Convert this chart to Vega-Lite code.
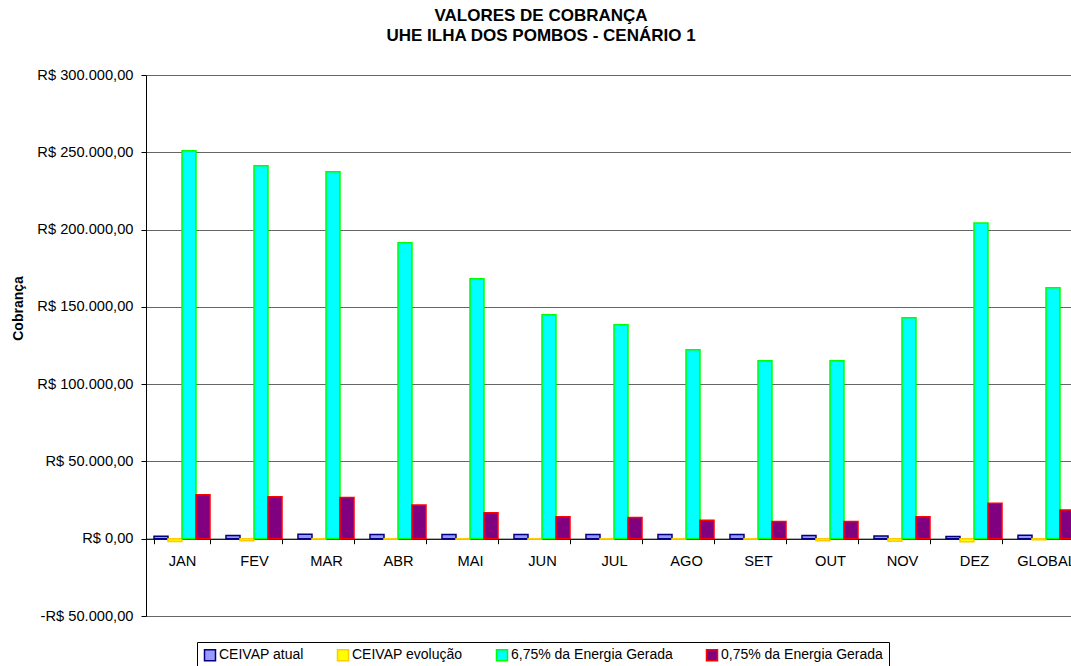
{
  "$schema": "https://vega.github.io/schema/vega-lite/v6.json",
  "autosize": "none",
  "padding": {"left": 146, "top": 75, "right": -11, "bottom": 50},
  "width": 936,
  "height": 541,
  "background": "white",
  "title": {
    "text": ["VALORES DE COBRANÇA", "UHE ILHA DOS POMBOS - CENÁRIO 1"],
    "fontSize": 17,
    "fontWeight": "bold",
    "font": "Liberation Sans",
    "lineHeight": 20,
    "color": "black",
    "anchor": "middle",
    "dx": -73,
    "offset": 22
  },
  "data": {
    "values": [
      {"mes": "JAN", "serie": "CEIVAP atual", "valor": 1600},
      {"mes": "JAN", "serie": "CEIVAP evolução", "valor": -1800},
      {"mes": "JAN", "serie": "6,75% da Energia Gerada", "valor": 251000},
      {"mes": "JAN", "serie": "0,75% da Energia Gerada", "valor": 28400},
      {"mes": "FEV", "serie": "CEIVAP atual", "valor": 2000},
      {"mes": "FEV", "serie": "CEIVAP evolução", "valor": -1300},
      {"mes": "FEV", "serie": "6,75% da Energia Gerada", "valor": 241300},
      {"mes": "FEV", "serie": "0,75% da Energia Gerada", "valor": 27200},
      {"mes": "MAR", "serie": "CEIVAP atual", "valor": 2900},
      {"mes": "MAR", "serie": "CEIVAP evolução", "valor": -300},
      {"mes": "MAR", "serie": "6,75% da Energia Gerada", "valor": 237400},
      {"mes": "MAR", "serie": "0,75% da Energia Gerada", "valor": 26700},
      {"mes": "ABR", "serie": "CEIVAP atual", "valor": 2700},
      {"mes": "ABR", "serie": "CEIVAP evolução", "valor": -300},
      {"mes": "ABR", "serie": "6,75% da Energia Gerada", "valor": 191500},
      {"mes": "ABR", "serie": "0,75% da Energia Gerada", "valor": 21800},
      {"mes": "MAI", "serie": "CEIVAP atual", "valor": 2700},
      {"mes": "MAI", "serie": "CEIVAP evolução", "valor": -300},
      {"mes": "MAI", "serie": "6,75% da Energia Gerada", "valor": 168200},
      {"mes": "MAI", "serie": "0,75% da Energia Gerada", "valor": 16800},
      {"mes": "JUN", "serie": "CEIVAP atual", "valor": 2700},
      {"mes": "JUN", "serie": "CEIVAP evolução", "valor": -300},
      {"mes": "JUN", "serie": "6,75% da Energia Gerada", "valor": 144900},
      {"mes": "JUN", "serie": "0,75% da Energia Gerada", "valor": 14200},
      {"mes": "JUL", "serie": "CEIVAP atual", "valor": 2700},
      {"mes": "JUL", "serie": "CEIVAP evolução", "valor": -300},
      {"mes": "JUL", "serie": "6,75% da Energia Gerada", "valor": 138400},
      {"mes": "JUL", "serie": "0,75% da Energia Gerada", "valor": 13800},
      {"mes": "AGO", "serie": "CEIVAP atual", "valor": 2700},
      {"mes": "AGO", "serie": "CEIVAP evolução", "valor": -300},
      {"mes": "AGO", "serie": "6,75% da Energia Gerada", "valor": 122300},
      {"mes": "AGO", "serie": "0,75% da Energia Gerada", "valor": 11900},
      {"mes": "SET", "serie": "CEIVAP atual", "valor": 2700},
      {"mes": "SET", "serie": "CEIVAP evolução", "valor": -300},
      {"mes": "SET", "serie": "6,75% da Energia Gerada", "valor": 115200},
      {"mes": "SET", "serie": "0,75% da Energia Gerada", "valor": 11200},
      {"mes": "OUT", "serie": "CEIVAP atual", "valor": 2000},
      {"mes": "OUT", "serie": "CEIVAP evolução", "valor": -1300},
      {"mes": "OUT", "serie": "6,75% da Energia Gerada", "valor": 115200},
      {"mes": "OUT", "serie": "0,75% da Energia Gerada", "valor": 11200},
      {"mes": "NOV", "serie": "CEIVAP atual", "valor": 1800},
      {"mes": "NOV", "serie": "CEIVAP evolução", "valor": -1600},
      {"mes": "NOV", "serie": "6,75% da Energia Gerada", "valor": 143000},
      {"mes": "NOV", "serie": "0,75% da Energia Gerada", "valor": 14200},
      {"mes": "DEZ", "serie": "CEIVAP atual", "valor": 1500},
      {"mes": "DEZ", "serie": "CEIVAP evolução", "valor": -2000},
      {"mes": "DEZ", "serie": "6,75% da Energia Gerada", "valor": 204300},
      {"mes": "DEZ", "serie": "0,75% da Energia Gerada", "valor": 23000},
      {"mes": "GLOBAL", "serie": "CEIVAP atual", "valor": 2300},
      {"mes": "GLOBAL", "serie": "CEIVAP evolução", "valor": -700},
      {"mes": "GLOBAL", "serie": "6,75% da Energia Gerada", "valor": 162400},
      {"mes": "GLOBAL", "serie": "0,75% da Energia Gerada", "valor": 18600}
    ]
  },
  "mark": {"type": "bar", "strokeWidth": 1.5},
  "encoding": {
    "x": {
      "field": "mes",
      "type": "nominal",
      "sort": null,
      "scale": {"paddingInner": 0.222, "paddingOuter": 0.111},
      "axis": {
        "title": null,
        "labelAngle": 0,
        "labelFontSize": 14.67,
        "labelColor": "black",
        "labelPadding": 10,
        "labelOverlap": false,
        "tickBand": "extent",
        "ticks": true,
        "tickSize": 5,
        "tickColor": "black",
        "domainColor": "black",
        "domainWidth": 1,
        "offset": -77.3,
        "grid": false
      }
    },
    "xOffset": {
      "field": "serie",
      "type": "nominal",
      "sort": ["CEIVAP atual", "CEIVAP evolução", "6,75% da Energia Gerada", "0,75% da Energia Gerada"],
      "scale": {"paddingInner": 0, "paddingOuter": 0}
    },
    "y": {
      "field": "valor",
      "type": "quantitative",
      "scale": {"domain": [-50000, 300000], "nice": false, "zero": false},
      "axis": {
        "title": "Cobrança",
        "titleFontSize": 14,
        "titleFontWeight": "bold",
        "titleColor": "black",
        "titleX": -128,
        "titleY": 233,
        "titleAngle": -90,
        "titleBaseline": "middle",
        "titleAlign": "center",
        "values": [-50000, 0, 50000, 100000, 150000, 200000, 250000, 300000],
        "labelExpr": "(datum.value < 0 ? '-' : '') + 'R$ ' + replace(format(abs(datum.value), ','), ',', '.') + ',00'",
        "labelFontSize": 14.67,
        "labelColor": "black",
        "labelPadding": 8,
        "tickSize": 5,
        "tickColor": "black",
        "domainColor": "black",
        "grid": true,
        "gridColor": "#666666",
        "gridWidth": 1
      }
    },
    "fill": {
      "field": "serie",
      "type": "nominal",
      "scale": {
        "domain": ["CEIVAP atual", "CEIVAP evolução", "6,75% da Energia Gerada", "0,75% da Energia Gerada"],
        "range": ["#9999FF", "#FFFF00", "#00FFFF", "#800080"]
      },
      "legend": {
        "title": null,
        "orient": "none",
        "legendX": 51,
        "legendY": 567,
        "direction": "horizontal",
        "columns": 4,
        "columnPadding": 30,
        "symbolType": "square",
        "symbolSize": 121,
        "symbolStrokeWidth": 1.5,
        "labelFontSize": 14,
        "labelColor": "black",
        "labelOffset": 2,
        "labelLimit": 300,
        "strokeColor": "#000000",
        "padding": 6,
        "fillColor": "white"
      }
    },
    "stroke": {
      "field": "serie",
      "type": "nominal",
      "scale": {
        "domain": ["CEIVAP atual", "CEIVAP evolução", "6,75% da Energia Gerada", "0,75% da Energia Gerada"],
        "range": ["#000080", "#FFCC00", "#00FF00", "#FF0000"]
      },
      "legend": null
    }
  },
  "config": {
    "font": "Liberation Sans",
    "view": {"stroke": null},
    "axis": {"labelFont": "Liberation Sans", "titleFont": "Liberation Sans"},
    "legend": {"labelFont": "Liberation Sans"}
  }
}
